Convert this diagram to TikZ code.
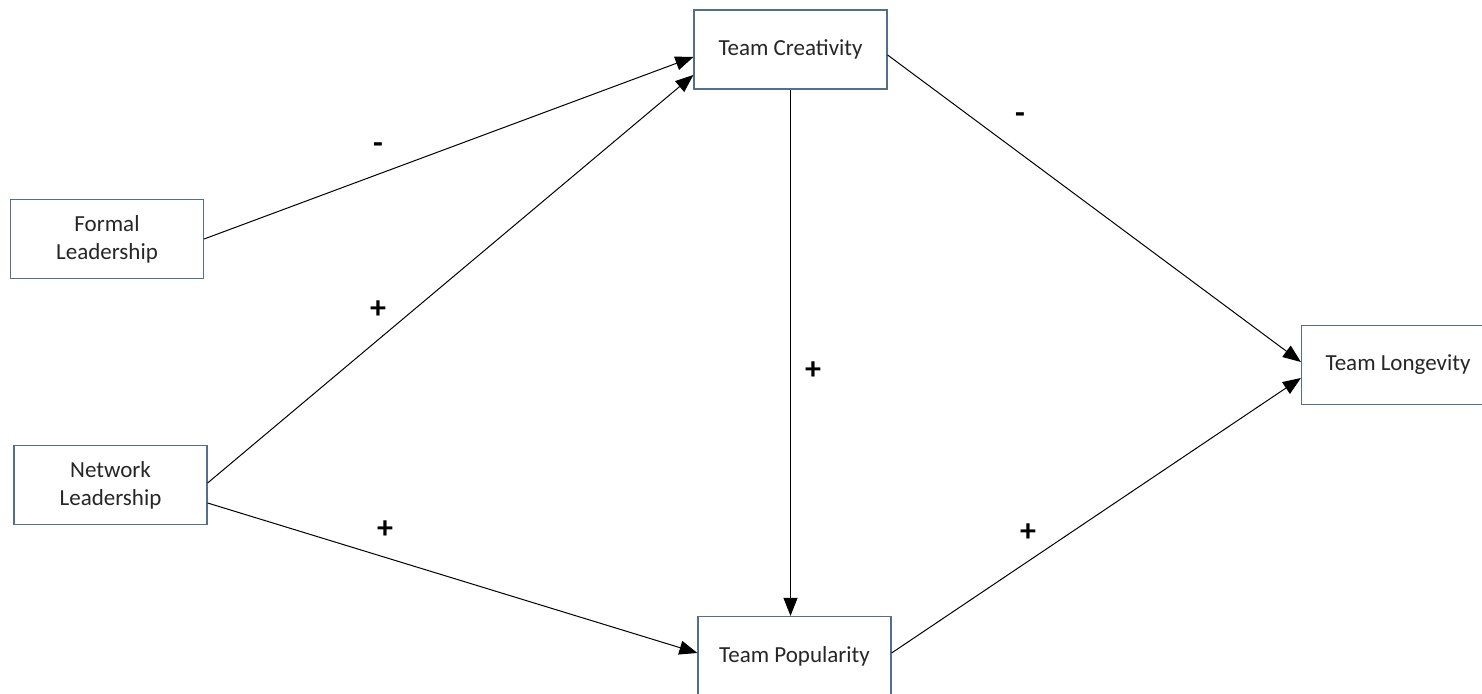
\documentclass[tikz,border=0pt]{standalone}
\usepackage{fontspec}
\setmainfont{Carlito}
\usetikzlibrary{arrows.meta, positioning}
\definecolor{boxblue}{RGB}{84,110,140}
\definecolor{ink}{RGB}{38,38,38}
\tikzstyle{factor} = [
    rectangle,
    draw=boxblue,
    line width=0.6pt,
    fill=white,
    text=ink,
    minimum width=96.5pt,
    minimum height=39.5pt,
    align=center,
    font=\fontsize{11.5}{14}\selectfont
]
\tikzstyle{arrow} = [
    -{Triangle[length=9pt, width=7pt]},
    line width=0.5pt,
    draw=black
]
\tikzstyle{sign} = [
    font=\fontsize{16}{16}\selectfont\bfseries
]

\begin{document}
\begin{tikzpicture}[x=0.5pt, y=-0.5pt]
        \useasboundingbox (0,0) rectangle (1482,694);
        \clip (0,0) rectangle (1482,694);

        % Leadership
        \node[factor] (formal) at (107,239) {Formal\\Leadership};
        \node[factor] (network) at (110.5,485) {Network\\Leadership};

        % Team outcomes
        \node[factor] (creativity) at (790.5,49.5) {Team Creativity};
        \node[factor] (popularity) at (794.5,656) {Team Popularity};
        \node[factor] (longevity) at (1398,365) {Team Longevity};

        % Paths
        \draw[arrow] (formal.east) -- (creativity.west |- 0,57);
        \draw[arrow] (network.east |- 0,483) -- (creativity.west |- 0,75);
        \draw[arrow] (network.east |- 0,503) -- (popularity.west |- 0,653);
        \draw[arrow] (creativity.south) -- (creativity.south |- popularity.north);
        \draw[arrow] (creativity.east |- 0,55) -- (longevity.west |- 0,362);
        \draw[arrow] (popularity.east |- 0,653) -- (longevity.west |- 0,378);

        % Signs
        \node[sign] (s1) at (378,148) {-};
        \node[sign] (s2) at (378,310) {+};
        \node[sign] (s3) at (385,530) {+};
        \node[sign] (s4) at (813,371) {+};
        \node[sign] (s5) at (1020,118) {-};
        \node[sign] (s6) at (1028,533) {+};
    \end{tikzpicture}
\end{document}
